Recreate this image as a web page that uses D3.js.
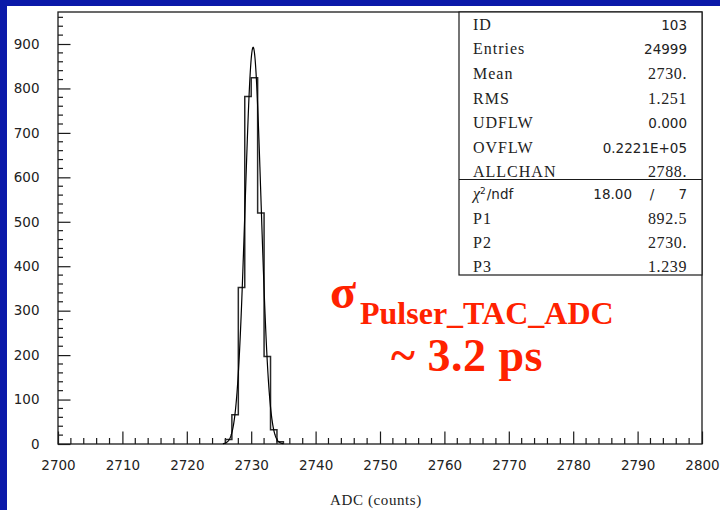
<!DOCTYPE html>
<html>
<head>
<meta charset="utf-8">
<script src="https://cdn.jsdelivr.net/npm/d3@7"></script>
<style>
  html, body { margin: 0; padding: 0; background: #0b19a9; }
  svg { display: block; }
</style>
</head>
<body>
<svg id="chart" width="720" height="510"></svg>
<script>
// ADC histogram: one-count-wide bins starting at these channel edges
const binStarts = [2726, 2727, 2728, 2729, 2730, 2731, 2732, 2733, 2734];
const binCounts = [10, 66, 352, 782, 824, 520, 197, 32, 5];

// Gaussian fit parameters P1 (amplitude), P2 (mean), P3 (sigma)
const fitNames = ["P1", "P2", "P3"];
const fitParams = [892.5, 2730.3, 1.239];
const fitRange = [2725.6, 2735];
const chi2Text = ["18.00", "/", "7"];

// Statistics box entries
const statLabels = ["ID", "Entries", "Mean", "RMS", "UDFLW", "OVFLW", "ALLCHAN"];
const statValues = ["103", "24999", "2730.", "1.251", "0.000", "0.2221E+05", "2788."];

// Axis ticks
const xTicks = [2700, 2710, 2720, 2730, 2740, 2750, 2760, 2770, 2780, 2790, 2800];
const yTicks = [0, 100, 200, 300, 400, 500, 600, 700, 800, 900];
const xDomain = [2700, 2800];
const yDomain = [0, 972];

const svg = d3.select("#chart");
const W = 720, H = 510;
const plot = { left: 58, right: 702, top: 12, bottom: 444 };

// white slide area
svg.append("rect").attr("x", 7).attr("y", 6).attr("width", W - 7).attr("height", H - 6).attr("fill", "#ffffff");

const x = d3.scaleLinear().domain(xDomain).range([plot.left, plot.right]);
const y = d3.scaleLinear().domain(yDomain).range([plot.bottom, plot.top]);

const ink = "#1a1a1a";
const sans = "'DejaVu Sans', Verdana, sans-serif";
const serif = "'Liberation Serif', 'Times New Roman', serif";

// frame
svg.append("rect")
  .attr("x", plot.left).attr("y", plot.top)
  .attr("width", plot.right - plot.left).attr("height", plot.bottom - plot.top)
  .attr("fill", "none").attr("stroke", ink).attr("stroke-width", 1.3);

// x axis: inward ticks, minor every 2 counts
const xAxis = d3.axisBottom(x).tickValues(xTicks).tickSize(-12.5).tickPadding(16).tickFormat(d3.format("d"));
const gx = svg.append("g").attr("transform", `translate(0,${plot.bottom})`).call(xAxis);
const xMinor = d3.range(xDomain[0], xDomain[1], 2).filter(v => v % 10 !== 0);
gx.selectAll(".minor").data(xMinor).enter().append("line").attr("class", "minor")
  .attr("x1", d => x(d)).attr("x2", d => x(d)).attr("y1", 0).attr("y2", -6)
  .attr("stroke", ink).attr("stroke-width", 1.2);

// y axis: inward ticks, minor every 20 counts
const yAxis = d3.axisLeft(y).tickValues(yTicks).tickSize(-12.5).tickPadding(30).tickFormat(d3.format("d"));
const gy = svg.append("g").attr("transform", `translate(${plot.left},0)`).call(yAxis);
const yMinor = d3.range(20, yDomain[1], 20).filter(v => v % 100 !== 0);
gy.selectAll(".minor").data(yMinor).enter().append("line").attr("class", "minor")
  .attr("y1", d => y(d)).attr("y2", d => y(d)).attr("x1", 0).attr("x2", 5)
  .attr("stroke", ink).attr("stroke-width", 1.2);

[gx, gy].forEach(g => {
  g.select(".domain").remove();
  g.selectAll(".tick line").attr("stroke", ink).attr("stroke-width", 1.2);
  g.selectAll(".tick text").attr("fill", "#222").attr("font-family", sans).attr("font-size", 13.5);
});
gy.selectAll(".tick text").attr("text-anchor", "end").attr("x", -18.5);

// axis title
svg.append("text").attr("x", 376).attr("y", 505).attr("text-anchor", "middle")
  .attr("font-family", serif).attr("font-size", 15).attr("letter-spacing", 0.6)
  .attr("fill", "#222").text("ADC (counts)");

// histogram outline as a step path
const steps = [];
binStarts.forEach((b, i) => {
  steps.push([b, i === 0 ? 0 : binCounts[i - 1]]);
  steps.push([b, binCounts[i]]);
});
const lastEdge = binStarts[binStarts.length - 1] + 1;
steps.push([lastEdge, binCounts[binCounts.length - 1]]);
steps.push([lastEdge, 0]);
svg.append("path")
  .attr("d", d3.line().x(d => x(d[0])).y(d => y(d[1]))(steps))
  .attr("fill", "none").attr("stroke", "#2a2a2a").attr("stroke-width", 1.5);

// Gaussian fit curve
const [p1, p2, p3] = fitParams;
const gauss = v => p1 * Math.exp(-0.5 * Math.pow((v - p2) / p3, 2));
const fitPts = d3.range(fitRange[0], fitRange[1] + 1e-9, 0.05).map(v => [v, gauss(v)]);
svg.append("path")
  .attr("d", d3.line().x(d => x(d[0])).y(d => y(d[1]))(fitPts))
  .attr("fill", "none").attr("stroke", "#000").attr("stroke-width", 1.2);

// statistics box
const box = { left: 459, right: plot.right, top: plot.top, bottom: 275, divider: 179.5 };
svg.append("rect").attr("x", box.left).attr("y", box.top)
  .attr("width", box.right - box.left).attr("height", box.bottom - box.top)
  .attr("fill", "#fff").attr("stroke", ink).attr("stroke-width", 1.2);
svg.append("line").attr("x1", box.left).attr("x2", box.right)
  .attr("y1", box.divider).attr("y2", box.divider).attr("stroke", ink).attr("stroke-width", 1.2);

const textL = 473, textR = 687;
const sansValues = new Set(["103", "24999", "0.000", "0.2221E+05"]);
statLabels.forEach((lab, i) => {
  const cy = 25 + i * 24.6;
  svg.append("text").attr("x", textL).attr("y", cy).attr("dy", "0.3em")
    .attr("font-family", serif).attr("font-size", 16).attr("letter-spacing", 1)
    .attr("fill", "#222").text(lab);
  const v = statValues[i];
  const isSans = sansValues.has(v);
  svg.append("text").attr("x", textR).attr("y", cy).attr("dy", isSans ? "0.36em" : "0.3em")
    .attr("text-anchor", "end")
    .attr("font-family", isSans ? sans : serif).attr("font-size", isSans ? 13.5 : 16)
    .attr("letter-spacing", isSans ? 0 : 0.6)
    .attr("fill", "#222").text(v);
});

// chi-square row
const chiY = 194.5;
const chi = svg.append("text").attr("x", textL).attr("y", chiY).attr("dy", "0.36em")
  .attr("font-family", sans).attr("font-size", 13.5).attr("fill", "#222");
chi.append("tspan").attr("font-family", serif).attr("font-style", "italic").attr("font-size", 16).text("χ");
chi.append("tspan").attr("font-size", 9).attr("dy", "-0.6em").text("2");
chi.append("tspan").attr("dy", "0.35em").attr("dx", 1).text("/ndf");
svg.append("text").attr("x", 632).attr("y", chiY).attr("dy", "0.36em").attr("text-anchor", "end")
  .attr("font-family", sans).attr("font-size", 13.5).attr("fill", "#222").text(chi2Text[0]);
svg.append("text").attr("x", 652).attr("y", chiY).attr("dy", "0.36em").attr("text-anchor", "middle")
  .attr("font-family", sans).attr("font-size", 13.5).attr("fill", "#222").text(chi2Text[1]);
svg.append("text").attr("x", textR).attr("y", chiY).attr("dy", "0.36em").attr("text-anchor", "end")
  .attr("font-family", sans).attr("font-size", 13.5).attr("fill", "#222").text(chi2Text[2]);

// PAW-style 4 significant digit formatting
const fmt4 = v => {
  let s = v.toPrecision(4);
  if (s.indexOf(".") < 0) s += ".";
  return s;
};
fitNames.forEach((n, j) => {
  const cy = 218.7 + j * 24.2;
  svg.append("text").attr("x", textL).attr("y", cy).attr("dy", "0.3em")
    .attr("font-family", serif).attr("font-size", 16).attr("letter-spacing", 1)
    .attr("fill", "#222").text(n);
  svg.append("text").attr("x", textR).attr("y", cy).attr("dy", "0.3em").attr("text-anchor", "end")
    .attr("font-family", serif).attr("font-size", 16).attr("letter-spacing", 0.6)
    .attr("fill", "#222").text(fmt4(fitParams[j]));
});

// resolution annotation
const red = "#ff2200";
svg.append("text").attr("x", 330).attr("y", 308)
  .attr("font-family", serif).attr("font-weight", "bold").attr("font-size", 48)
  .attr("fill", red).text("σ");
svg.append("text").attr("x", 360).attr("y", 324)
  .attr("font-family", serif).attr("font-weight", "bold").attr("font-size", 32)
  .attr("fill", red).text("Pulser_TAC_ADC");
svg.append("text").attr("x", 391).attr("y", 371)
  .attr("font-family", serif).attr("font-weight", "bold").attr("font-size", 46)
  .attr("letter-spacing", 0.5)
  .attr("fill", red).text("~ 3.2 ps");
</script>
</body>
</html>
